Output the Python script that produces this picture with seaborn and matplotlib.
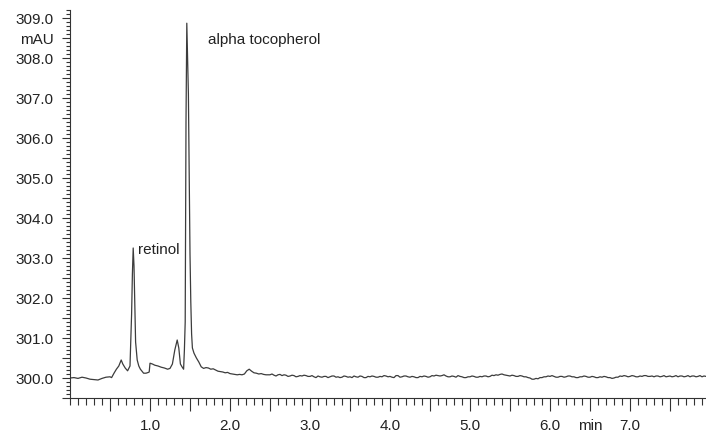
import numpy as np
import pandas as pd
import matplotlib
matplotlib.use("Agg")
import matplotlib.pyplot as plt
from matplotlib.ticker import FixedLocator, MultipleLocator
import seaborn as sns

# cromatograma: região dos picos (tempos)
tempo_picos = [0.00, 0.05, 0.10, 0.15, 0.20, 0.25, 0.30, 0.35, 0.40, 0.45,
               0.50, 0.52, 0.55, 0.58, 0.61, 0.64, 0.66, 0.69, 0.72, 0.75,
               0.77, 0.78, 0.79, 0.80, 0.81, 0.82, 0.84, 0.86, 0.88, 0.92,
               0.95, 0.98, 0.99, 1.00, 1.03, 1.06, 1.10, 1.14, 1.18, 1.22,
               1.25, 1.28, 1.31, 1.34, 1.36, 1.38, 1.40, 1.42, 1.43, 1.44,
               1.45, 1.46, 1.47, 1.48, 1.49, 1.50, 1.51, 1.52, 1.53, 1.55,
               1.58, 1.61, 1.64, 1.67, 1.70, 1.73, 1.76, 1.79, 1.82, 1.85,
               1.88, 1.91, 1.94, 1.97, 2.00, 2.03, 2.06, 2.09, 2.12, 2.15,
               2.18, 2.21, 2.24, 2.27, 2.30, 2.33, 2.36, 2.39, 2.42, 2.45,
               2.475]
sinal_picos = [300.00, 300.01, 299.99, 300.02, 300.00, 299.97, 299.96, 299.95, 299.99, 300.02,
               300.03, 300.01, 300.12, 300.22, 300.30, 300.45, 300.35, 300.25, 300.18, 300.30,
               301.60, 302.60, 303.25, 302.80, 301.80, 300.90, 300.45, 300.30, 300.22, 300.12,
               300.12, 300.14, 300.15, 300.37, 300.35, 300.32, 300.30, 300.27, 300.25, 300.22,
               300.24, 300.35, 300.70, 300.95, 300.75, 300.35, 300.28, 300.22, 300.70, 301.40,
               306.40, 308.87, 308.00, 307.10, 305.00, 303.10, 301.90, 301.10, 300.75, 300.62,
               300.50, 300.40, 300.28, 300.24, 300.26, 300.25, 300.22, 300.23, 300.20, 300.17,
               300.16, 300.15, 300.13, 300.14, 300.11, 300.10, 300.09, 300.08, 300.09, 300.08,
               300.10, 300.18, 300.22, 300.17, 300.13, 300.12, 300.10, 300.11, 300.09, 300.08,
               300.10]

# linha de base depois de 2.5 min (amostrada a cada 0.025 min)
inicio_base = 2.50
passo_base = 0.025
sinal_base = [
    300.08, 300.10, 300.07, 300.05, 300.08, 300.09, 300.06, 300.08, 300.07, 300.04,
    300.05, 300.07, 300.06, 300.03, 300.04, 300.06, 300.05, 300.07, 300.06, 300.04,
    300.04, 300.06, 300.03, 300.01, 300.05, 300.03, 300.02, 300.04, 300.04, 300.01,
    300.03, 300.05, 300.05, 300.02, 300.03, 300.01, 300.02, 300.05, 300.04, 300.02,
    300.03, 300.01, 300.05, 300.03, 300.02, 300.05, 300.04, 300.01, 300.01, 300.04,
    300.03, 300.05, 300.04, 300.02, 300.02, 300.04, 300.03, 300.06, 300.05, 300.03,
    300.04, 300.02, 300.01, 300.06, 300.06, 300.02, 300.03, 300.05, 300.05, 300.03,
    300.02, 300.04, 300.03, 300.01, 300.01, 300.04, 300.03, 300.05, 300.04, 300.02,
    300.03, 300.06, 300.05, 300.07, 300.06, 300.05, 300.06, 300.08, 300.05, 300.03,
    300.03, 300.05, 300.04, 300.02, 300.06, 300.04, 300.03, 300.01, 300.01, 300.03,
    300.03, 300.05, 300.04, 300.02, 300.02, 300.04, 300.03, 300.05, 300.05, 300.03,
    300.04, 300.07, 300.06, 300.08, 300.07, 300.09, 300.10, 300.08, 300.07, 300.06,
    300.05, 300.07, 300.06, 300.04, 300.04, 300.06, 300.05, 300.03, 300.03, 300.01,
    300.00, 299.97, 299.97, 299.99, 299.98, 300.01, 300.01, 300.03, 300.03, 300.05,
    300.04, 300.06, 300.04, 300.02, 300.02, 300.04, 300.04, 300.02, 300.03, 300.05,
    300.05, 300.03, 300.03, 300.01, 300.01, 300.03, 300.03, 300.05, 300.04, 300.02,
    300.02, 300.04, 300.03, 300.01, 300.01, 300.03, 300.02, 300.04, 300.03, 300.01,
    300.01, 299.99, 300.00, 300.02, 300.02, 300.05, 300.04, 300.06, 300.05, 300.03,
    300.04, 300.06, 300.05, 300.03, 300.03, 300.05, 300.04, 300.06, 300.06, 300.04,
    300.04, 300.05, 300.03, 300.05, 300.05, 300.03, 300.04, 300.06, 300.03, 300.04,
    300.05, 300.03, 300.04, 300.06, 300.03, 300.05, 300.05, 300.03, 300.04, 300.06,
    300.03, 300.05, 300.05, 300.03, 300.04, 300.06, 300.03, 300.05, 300.04]

rotulos_x = ['1.0', '2.0', '3.0', '4.0', '5.0', '6.0', 'min', '7.0']
rotulos_y = ['300.0', '301.0', '302.0', '303.0', '304.0', '305.0',
             '306.0', '307.0', '308.0', 'mAU', '309.0']

tempo_base = inicio_base + passo_base * np.arange(len(sinal_base))
df = pd.DataFrame({
    'min': np.concatenate([tempo_picos[:-1], tempo_base]),
    'mAU': np.concatenate([sinal_picos[:-1], sinal_base]),
})

sns.set_style('ticks')
plt.rcParams['font.family'] = ['Liberation Sans', 'DejaVu Sans']

fig = plt.figure(figsize=(7.06, 4.36), dpi=100)
ax = fig.add_axes([70 / 706, 38 / 436, 636 / 706, 388 / 436])

sns.lineplot(data=df, x='min', y='mAU', ax=ax, color='#3c3c3c',
             linewidth=0.9, estimator=None, sort=False)

ax.set_xlim(0, 7.95)
ax.set_ylim(299.5, 309.2)
ax.set_xlabel('')
ax.set_ylabel('')
sns.despine(ax=ax)
for lado in ['left', 'bottom']:
    ax.spines[lado].set_linewidth(0.8)
    ax.spines[lado].set_color('#333333')

# eixo x: rótulos nos inteiros, "min" entre 6.0 e 7.0
pos_x = [0.5 * k for k in range(1, 16)]
lab_x = []
for p in pos_x:
    if p == int(p):
        lab_x.append(rotulos_x[int(p) - 1] if int(p) <= 6 else rotulos_x[7])
    elif p == 6.5:
        lab_x.append(rotulos_x[6])
    else:
        lab_x.append('')
ax.xaxis.set_major_locator(FixedLocator(pos_x))
ax.set_xticklabels(lab_x)
ax.xaxis.set_minor_locator(MultipleLocator(0.1))

# eixo y: rótulos nos inteiros, "mAU" em 308.5
pos_y = [299.5 + 0.5 * k for k in range(20)]
lab_y = []
for p in pos_y:
    if p == int(p):
        lab_y.append(rotulos_y[int(p) - 300] if int(p) < 309 else rotulos_y[10])
    elif p == 308.5:
        lab_y.append(rotulos_y[9])
    else:
        lab_y.append('')
ax.yaxis.set_major_locator(FixedLocator(pos_y))
ax.set_yticklabels(lab_y)
ax.yaxis.set_minor_locator(MultipleLocator(0.1))

ax.tick_params(axis='both', which='both', direction='out', color='#333333',
               labelcolor='#222222', labelsize=11, width=0.8)
ax.tick_params(axis='x', which='major', length=9, pad=6)
ax.tick_params(axis='x', which='minor', length=5)
ax.tick_params(axis='y', which='major', length=6, pad=6)
ax.tick_params(axis='y', which='minor', length=3)

ax.text(0.85, 303.2, 'retinol', ha='left', va='center', fontsize=11, color='#222222')
ax.text(1.725, 308.45, 'alpha tocopherol', ha='left', va='center', fontsize=11, color='#222222')

fig.savefig('out.png', dpi=100)
